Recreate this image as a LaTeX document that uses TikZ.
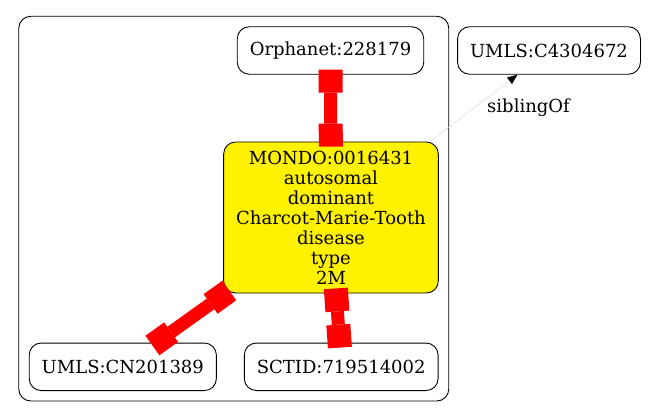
\documentclass[tikz,border=0pt]{standalone}
\usepackage{fontspec}
\setmainfont{DejaVu Serif}
\usetikzlibrary{arrows.meta,fit}

\begin{document}
\begin{tikzpicture}[x=1pt,y=-1pt,
  term/.style={draw,line width=0.9pt,rounded corners=12pt,inner xsep=12.5pt,minimum height=47.5pt,font=\fontsize{18}{20}\selectfont},
  xref/.style={red,line width=13pt,{Square[length=23pt,width=24pt,line width=0pt]}-{Square[length=23pt,width=24pt,line width=0pt]},shorten <=-5pt,shorten >=-5pt},
  sibling/.style={gray!35,line width=0.4pt,-{Triangle[length=10pt,width=8pt,black]}}]
  \useasboundingbox (0,0) rectangle (653,417);
  % terms
  \node[term] (orphanet) at (330.5,50.5) {Orphanet:228179};
  \node[term] (umlsc) at (549,50.5) {UMLS:C4304672};
  \node[term,fill=yellow,align=center,minimum height=151pt] (mondo) at (331,217.5)
    {MONDO:0016431\\autosomal\\dominant\\Charcot-Marie-Tooth\\disease\\type\\2M};
  \node[term] (umlscn) at (122.8,366.8) {UMLS:CN201389};
  \node[term] (sctid) at (341.2,366.8) {SCTID:719514002};
  \node[draw,line width=0.9pt,rounded corners=12pt,inner sep=10pt,fit=(orphanet)(mondo)(umlscn)(sctid)] (cluster) {};
  % edges
  \draw[xref] (orphanet) -- (mondo);
  \draw[xref] (mondo) -- (umlscn);
  \draw[xref] (mondo) -- (sctid);
  \draw[sibling] (mondo) -- (umlsc) node[midway,right=10pt,black,font=\fontsize{18}{20}\selectfont] {siblingOf};
\end{tikzpicture}
\end{document}
